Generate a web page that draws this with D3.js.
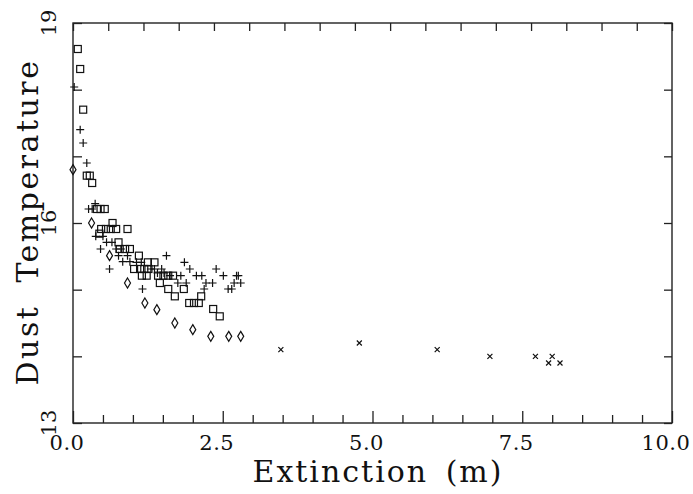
<!doctype html>
<html lang="en">
<head>
<meta charset="utf-8">
<title>Dust Temperature vs Extinction</title>
<script src="https://cdn.jsdelivr.net/npm/d3@7"></script>
<style>
  body { margin: 0; background: #fff; }
  svg text { font-family: "DejaVu Serif", serif; fill: #111; }
  .frame { fill: none; stroke: #222; stroke-width: 1.4px; }
  .tick line { stroke: #222; stroke-width: 1.3px; }
  .mark { fill: none; stroke: #111; stroke-width: 1.2px; }
</style>
</head>
<body>
<svg id="chart" width="693" height="494"></svg>
<script>
// squares
var sqX = [0.08, 0.12, 0.17, 0.23, 0.28, 0.32, 0.40, 0.46, 0.53, 0.66, 0.47, 0.55, 0.63, 0.72, 0.91, 0.44,
           0.76, 0.78, 0.87, 0.95, 1.10, 1.25, 1.36, 1.02, 1.12, 1.19, 1.26, 1.15, 1.23, 1.42, 1.51, 1.59, 1.67,
           1.45, 1.59, 1.85, 1.70, 2.14, 1.94, 2.02, 2.10, 2.34, 2.45];
var sqY = [18.61, 18.31, 17.70, 16.71, 16.71, 16.60, 16.21, 16.21, 16.21, 16.00, 15.91, 15.91, 15.91, 15.91, 15.91, 15.84,
           15.71, 15.61, 15.61, 15.61, 15.51, 15.41, 15.41, 15.31, 15.31, 15.31, 15.31, 15.21, 15.21, 15.21, 15.21, 15.21, 15.21,
           15.10, 15.01, 15.01, 14.90, 14.90, 14.80, 14.80, 14.80, 14.71, 14.60];
// plus signs
var plX = [0.02, 0.12, 0.17, 0.23, 0.37, 0.26, 0.32, 0.38, 0.50, 0.56, 0.65, 0.46, 0.72, 0.80, 0.76, 0.91,
           0.83, 0.95, 1.06, 1.14, 1.56, 0.61, 1.30, 1.36, 1.48, 1.86, 1.95, 1.41, 1.52, 1.62, 1.80, 2.06, 2.15,
           2.39, 2.51, 2.73, 1.75, 1.89, 2.22, 2.33, 2.69, 1.16, 2.19, 2.59, 2.65, 2.76, 2.80];
var plY = [18.04, 17.40, 17.20, 16.90, 16.29, 16.21, 16.21, 15.80, 15.80, 15.71, 15.71, 15.61, 15.61, 15.61, 15.51, 15.51,
           15.42, 15.42, 15.41, 15.41, 15.51, 15.31, 15.31, 15.31, 15.31, 15.41, 15.31, 15.25, 15.25, 15.21, 15.21, 15.21, 15.21,
           15.31, 15.21, 15.21, 15.10, 15.10, 15.10, 15.10, 15.10, 15.01, 15.01, 15.01, 15.01, 15.21, 15.10];
// diamonds
var dmX = [0.00, 0.31, 0.61, 0.91, 1.20, 1.40, 1.70, 2.00, 2.30, 2.60, 2.80];
var dmY = [16.80, 16.00, 15.51, 15.10, 14.80, 14.70, 14.50, 14.40, 14.30, 14.30, 14.30];
// crosses
var crX = [3.47, 4.78, 6.08, 6.96, 7.72, 8.00, 7.94, 8.13];
var crY = [14.10, 14.20, 14.10, 14.00, 14.00, 14.00, 13.90, 13.90];

var xTickLabels = ["0.0", "2.5", "5.0", "7.5", "10.0"];
var yTickLabels = ["13", "16", "19"];

var svg = d3.select("#chart"),
    mLeft = 73, mRight = 672, mTop = 23, mBottom = 423;

var x = d3.scaleLinear().domain([0, 10]).range([mLeft, mRight]);
var y = d3.scaleLinear().domain([13, 19]).range([mBottom, mTop]);
// top axis carries its own uneven tick spacing
var xTop = d3.scaleLinear().domain([0, 17]).range([mLeft, mRight]);

var bottomTicks = d3.range(0, 10.01, 0.5);
var sideTicks = d3.range(13, 19.01, 1);

svg.append("g")
    .attr("transform", "translate(0," + mBottom + ")")
    .call(d3.axisTop(x).tickValues(bottomTicks).tickFormat("").tickSizeOuter(0).tickSize(8))
    .call(function(g) {
      g.select(".domain").remove();
      g.selectAll(".tick line").attr("y2", function(d) { return d % 2.5 === 0 ? -12 : -8; });
    });

svg.append("g")
    .attr("transform", "translate(0," + mTop + ")")
    .call(d3.axisBottom(xTop).ticks(17).tickFormat("").tickSizeOuter(0).tickSize(8))
    .call(function(g) { g.select(".domain").remove(); });

svg.append("g")
    .attr("transform", "translate(" + mLeft + ",0)")
    .call(d3.axisRight(y).tickValues(sideTicks).tickFormat("").tickSizeOuter(0).tickSize(9))
    .call(function(g) { g.select(".domain").remove(); });

svg.append("g")
    .attr("transform", "translate(" + mRight + ",0)")
    .call(d3.axisLeft(y).tickValues(sideTicks).tickFormat("").tickSizeOuter(0).tickSize(8))
    .call(function(g) { g.select(".domain").remove(); });

svg.append("rect").attr("class", "frame")
    .attr("x", mLeft).attr("y", mTop)
    .attr("width", mRight - mLeft).attr("height", mBottom - mTop);

// tick labels
svg.selectAll(".xlab").data(xTickLabels).enter().append("text")
    .attr("class", "xlab")
    .attr("x", function(d) { return x(+d) - 6; })
    .attr("y", 450)
    .attr("text-anchor", "middle")
    .style("font-size", "21px")
    .style("letter-spacing", "0.5px")
    .text(function(d) { return d; });

svg.selectAll(".ylab").data(yTickLabels).enter().append("text")
    .attr("class", "ylab")
    .attr("transform", function(d) { return "translate(56," + y(+d) + ") rotate(-90)"; })
    .attr("text-anchor", "middle")
    .style("font-size", "21px")
    .text(function(d) { return d; });

// axis titles
svg.append("text")
    .attr("x", 378).attr("y", 482)
    .attr("text-anchor", "middle")
    .style("font-size", "30px")
    .style("letter-spacing", "2px")
    .style("word-spacing", "6px")
    .text("Extinction (m)");

svg.append("text")
    .attr("transform", "translate(38,222) rotate(-90)")
    .attr("text-anchor", "middle")
    .style("font-size", "30px")
    .style("letter-spacing", "2.5px")
    .style("word-spacing", "10px")
    .text("Dust Temperature");

// markers
var plot = svg.append("g");

plot.selectAll(".sq").data(d3.zip(sqX, sqY)).enter().append("rect")
    .attr("class", "mark")
    .attr("x", function(d) { return x(d[0]) - 3.5; })
    .attr("y", function(d) { return y(d[1]) - 3.5; })
    .attr("width", 7).attr("height", 7);

plot.selectAll(".pl").data(d3.zip(plX, plY)).enter().append("path")
    .attr("class", "mark")
    .attr("d", function(d) {
      var cx = x(d[0]), cy = y(d[1]);
      return "M" + (cx - 4) + "," + cy + "H" + (cx + 4) + "M" + cx + "," + (cy - 4) + "V" + (cy + 4);
    });

plot.selectAll(".dm").data(d3.zip(dmX, dmY)).enter().append("path")
    .attr("class", "mark")
    .attr("d", function(d) {
      var cx = x(d[0]), cy = y(d[1]);
      return "M" + cx + "," + (cy - 5) + "L" + (cx + 3) + "," + cy + "L" + cx + "," + (cy + 5) + "L" + (cx - 3) + "," + cy + "Z";
    });

plot.selectAll(".cr").data(d3.zip(crX, crY)).enter().append("path")
    .attr("class", "mark")
    .attr("d", function(d) {
      var cx = x(d[0]), cy = y(d[1]);
      return "M" + (cx - 2.5) + "," + (cy - 2.5) + "L" + (cx + 2.5) + "," + (cy + 2.5) +
             "M" + (cx + 2.5) + "," + (cy - 2.5) + "L" + (cx - 2.5) + "," + (cy + 2.5);
    });
</script>
</body>
</html>
